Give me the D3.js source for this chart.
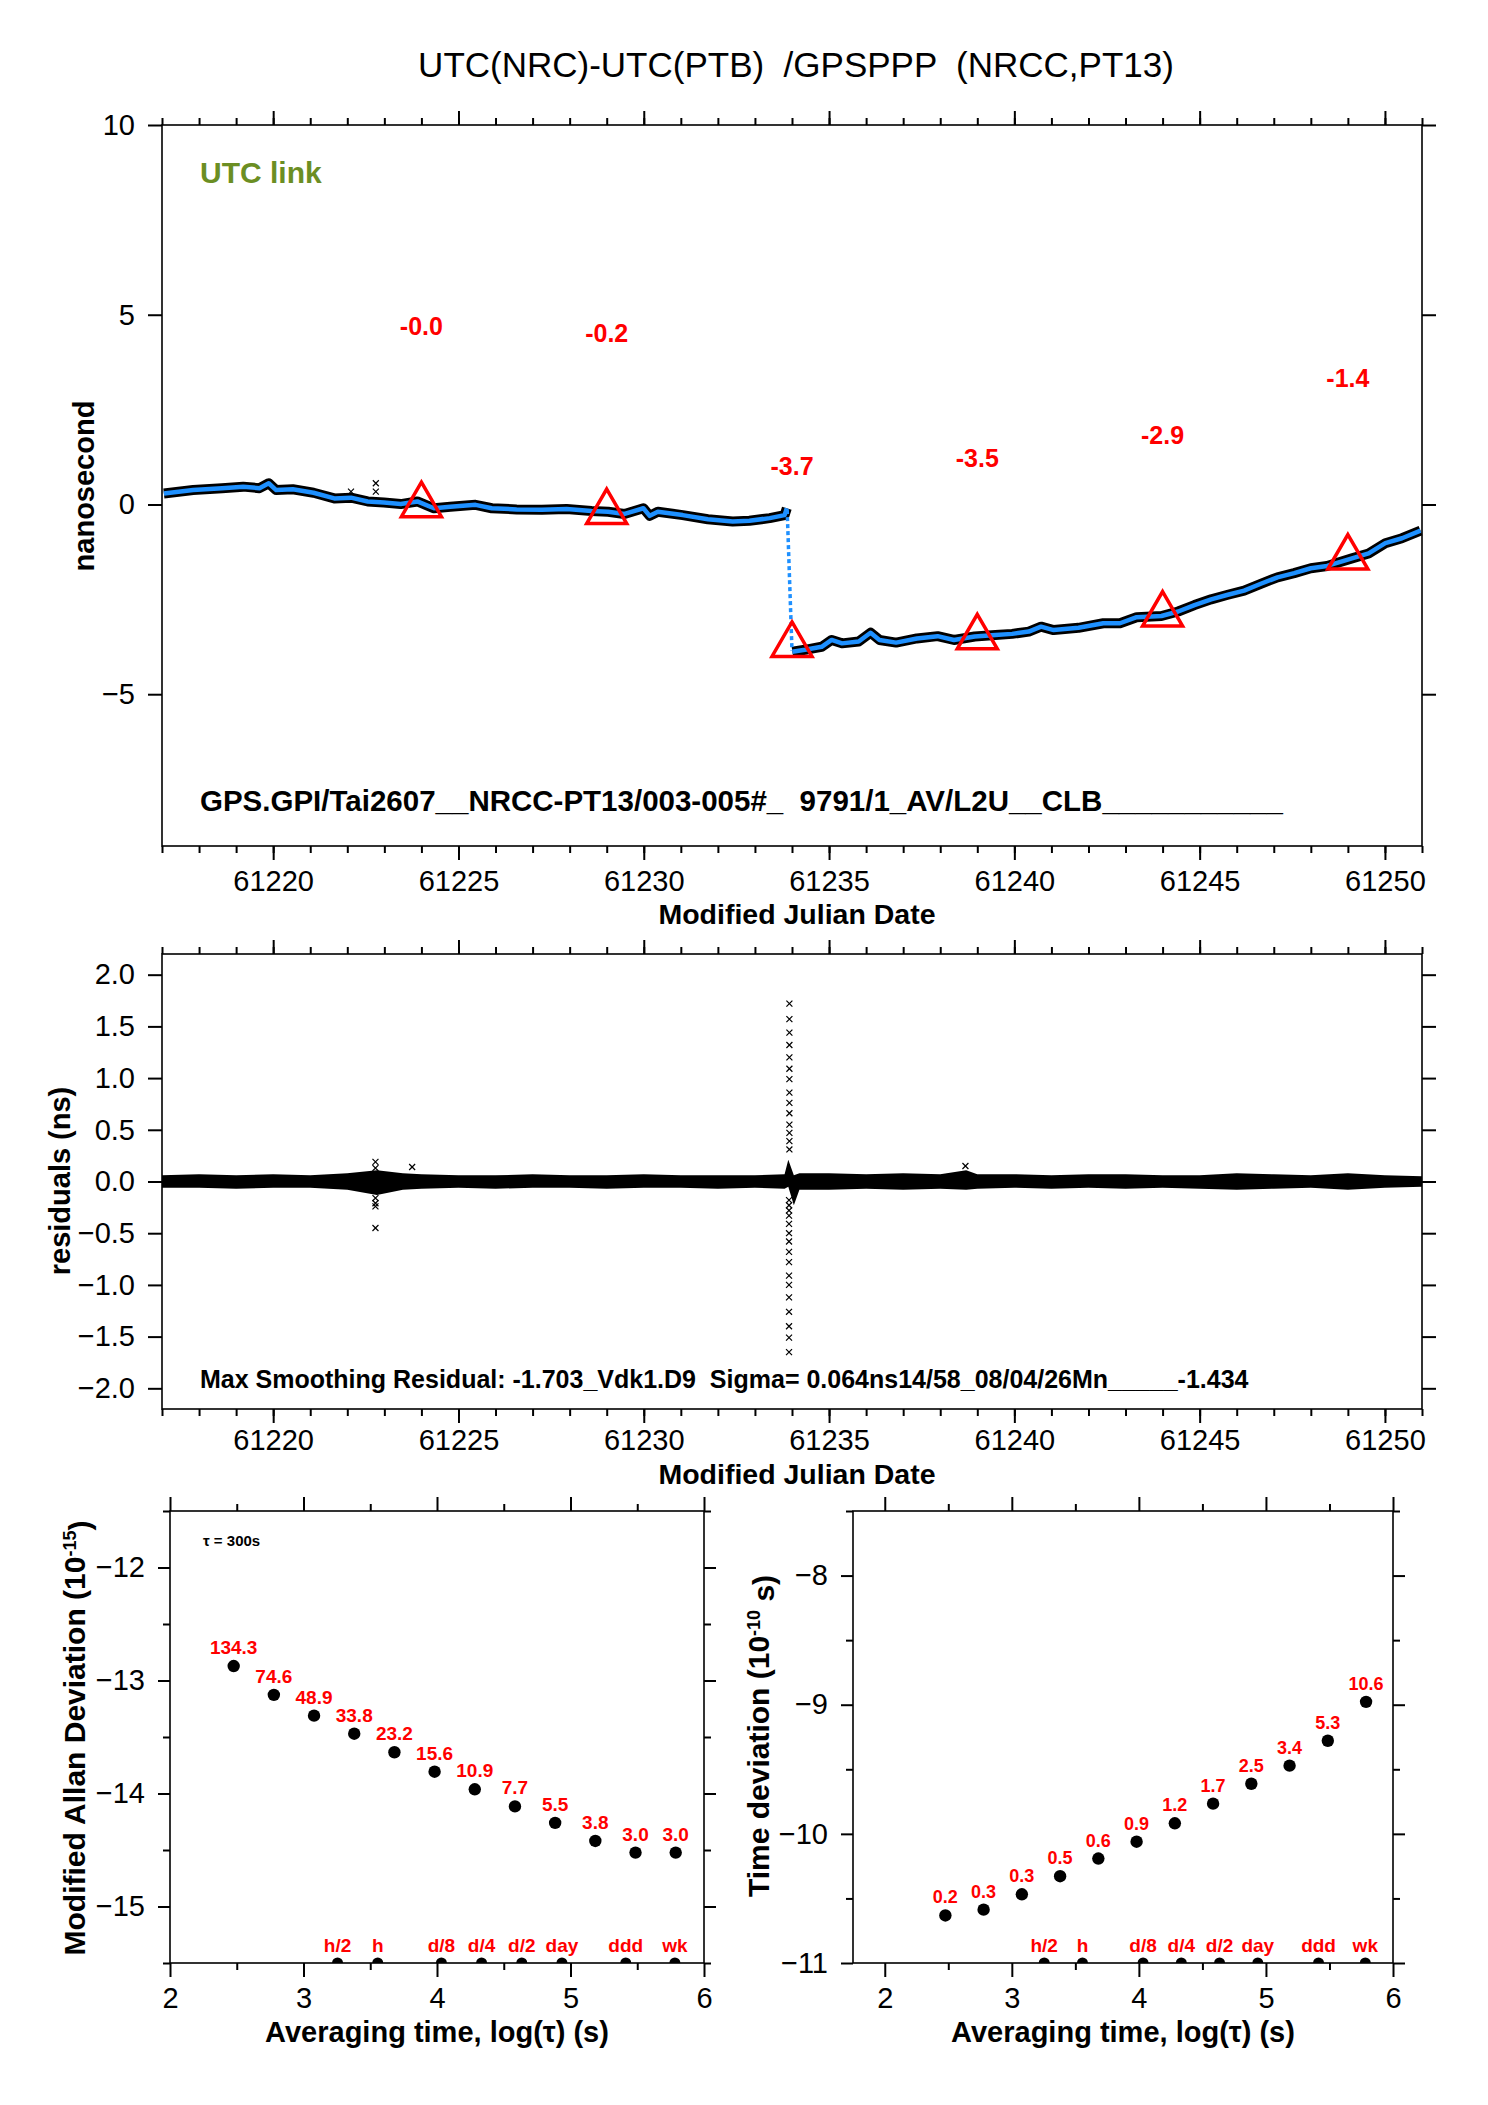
<!DOCTYPE html>
<html>
<head>
<meta charset="utf-8">
<script src="https://cdn.jsdelivr.net/npm/d3@7"></script>
<style>
body{margin:0;background:#fff}
svg{display:block}
text{white-space:pre}
</style>
</head>
<body>
<script>
// ---- data ----
// smoothed link, before and after the step
var mjdA = [61217.05,61217.84,61218.62,61219.19,61219.63,61219.88,61220.08,61220.53,61221.09,61221.65,61222.10,61222.55,61222.99,61223.44,61223.89,61224.34,61224.78,61225.46,61225.90,61226.57,61227.25,61227.92,61228.59,61229.04,61229.48,61229.99,61230.16,61230.38,61231.05,61231.73,61232.40,61232.85,61233.40,61233.80,61233.86];
var nsA  = [0.29,0.38,0.43,0.47,0.43,0.56,0.38,0.40,0.31,0.16,0.18,0.08,0.05,0.01,0.08,-0.10,-0.06,-0.01,-0.10,-0.13,-0.14,-0.12,-0.17,-0.19,-0.25,-0.10,-0.30,-0.19,-0.28,-0.39,-0.45,-0.43,-0.36,-0.28,-0.10];
var mjdB = [61234.01,61234.35,61234.80,61235.07,61235.35,61235.80,61236.12,61236.36,61236.81,61237.37,61237.93,61238.37,61238.93,61239.49,61239.94,61240.39,61240.72,61241.06,61241.73,61242.40,61242.85,61243.30,61243.97,61244.42,61244.86,61245.31,61245.76,61246.20,61246.65,61247.10,61247.55,61248.00,61248.44,61249.11,61249.56,61250.01,61250.46,61250.96];
var nsB  = [-3.88,-3.83,-3.75,-3.57,-3.66,-3.61,-3.38,-3.57,-3.64,-3.53,-3.47,-3.57,-3.48,-3.44,-3.41,-3.35,-3.22,-3.31,-3.25,-3.13,-3.13,-2.97,-2.94,-2.82,-2.65,-2.50,-2.38,-2.27,-2.09,-1.92,-1.81,-1.68,-1.62,-1.42,-1.29,-1.02,-0.89,-0.69];
var jumpMjd = [61233.87, 61234.0];
var jumpNs  = [-0.15, -3.85];
var outMjd = [61222.77,61222.77,61222.10];
var outNs  = [0.56,0.34,0.34];

// UTC link triangles
var triMjd = [61224,61229,61234,61239,61244,61249];
var triVal = [-0.02,-0.2,-3.7,-3.5,-2.9,-1.4];
var triLbl = ["-0.0","-0.2","-3.7","-3.5","-2.9","-1.4"];

// residual envelope
var resDay = [61217,61218,61219,61220,61221,61222,61222.8,61223.5,61224,61225,61226,61227,61228,61229,61230,61231,61232,61233,61233.8,61233.9,61234.05,61234.2,61235,61236,61237,61238,61238.7,61239,61240,61241,61242,61243,61244,61245,61246,61247,61248,61249,61250,61251];
var resHi  = [0.06,0.07,0.06,0.07,0.06,0.08,0.11,0.08,0.07,0.06,0.06,0.07,0.06,0.06,0.07,0.06,0.06,0.06,0.07,0.21,0.06,0.08,0.08,0.07,0.08,0.07,0.11,0.07,0.07,0.06,0.07,0.07,0.06,0.06,0.08,0.07,0.06,0.08,0.06,0.05];
var resLo  = [-0.06,-0.06,-0.07,-0.06,-0.06,-0.08,-0.13,-0.08,-0.07,-0.06,-0.07,-0.06,-0.06,-0.07,-0.06,-0.06,-0.07,-0.06,-0.07,-0.05,-0.23,-0.08,-0.08,-0.07,-0.08,-0.07,-0.08,-0.07,-0.06,-0.07,-0.06,-0.07,-0.06,-0.07,-0.08,-0.07,-0.06,-0.08,-0.06,-0.05];
var resOutMjd = [61222.76,61222.76,61222.76,61222.76,61222.76,61222.76,61223.75,61238.68,
  61233.93,61233.93,61233.93,61233.93,61233.93,61233.93,61233.93,61233.93,61233.93,61233.93,61233.93,61233.93,61233.93,61233.93,
  61233.92,61233.92,61233.92,61233.92,61233.92,61233.92,61233.92,61233.92,61233.92,61233.92,61233.92,61233.92,61233.92,61233.92,61233.92,61233.92];
var resOutNs = [0.19,0.13,-0.16,-0.21,-0.24,-0.45,0.14,0.15,
  1.72,1.57,1.44,1.32,1.20,1.09,0.99,0.86,0.76,0.66,0.55,0.47,0.39,0.31,
  -0.18,-0.23,-0.28,-0.33,-0.41,-0.50,-0.58,-0.68,-0.78,-0.91,-1.00,-1.12,-1.26,-1.40,-1.51,-1.65];

// stability
var logTau  = [2.477,2.778,3.079,3.380,3.681,3.982,4.283,4.584,4.885,5.186,5.487,5.788];
var madev   = [-12.872,-13.127,-13.311,-13.471,-13.635,-13.807,-13.963,-14.114,-14.260,-14.420,-14.523,-14.523];
var madevLbl= ["134.3","74.6","48.9","33.8","23.2","15.6","10.9","7.7","5.5","3.8","3.0","3.0"];
var tdev    = [-10.632,-10.587,-10.468,-10.328,-10.191,-10.061,-9.918,-9.766,-9.612,-9.472,-9.279,-8.978];
var tdevLbl = ["0.2","0.3","0.3","0.5","0.6","0.9","1.2","1.7","2.5","3.4","5.3","10.6"];
var markTau = [3.255,3.556,4.033,4.334,4.635,4.936,5.414,5.782];
var markLbl = ["h/2","h","d/8","d/4","d/2","day","ddd","wk"];

var FONT = '"Liberation Sans", Arial, Helvetica, sans-serif';
var RED = "#ff0000", BLUE = "#1e90ff";

var svg = d3.select("body").append("svg")
    .attr("width",1488).attr("height",2105)
    .attr("font-family",FONT);

svg.append("rect").attr("width",1488).attr("height",2105).attr("fill","#fff");

function styleAx(g, fs){
    g.select(".domain").remove();
    g.attr("font-family",FONT).attr("font-size",fs);
    g.selectAll("line").attr("stroke","#000").attr("stroke-width",2);
    g.selectAll("text").attr("fill","#000");
    // drop the empty labels of unlabelled tick sets
    g.selectAll("text").filter(function(){return this.textContent === "";}).remove();
}
function frame(x, y){
    svg.append("rect")
        .attr("x",x.range()[0]).attr("y",y.range()[1])
        .attr("width",x.range()[1]-x.range()[0]).attr("height",y.range()[0]-y.range()[1])
        .attr("fill","none").attr("stroke","#000").attr("stroke-width",1.6);
}

// ================= plot 1 =================
var x1 = d3.scaleLinear().domain([61217,61251]).range([162,1422]);
var y1 = d3.scaleLinear().domain([-9,10]).range([846,125]);
var dayMinor = d3.range(61217,61252,1);
var dayMajor = d3.range(61220,61251,5);

svg.append("text").attr("x",796).attr("y",77).attr("text-anchor","middle")
    .attr("font-size",35).text("UTC(NRC)-UTC(PTB)  /GPSPPP  (NRCC,PT13)");

var lineA = d3.line().x(function(d,i){return x1(mjdA[i]);}).y(function(d){return y1(d);});
var lineB = d3.line().x(function(d,i){return x1(mjdB[i]);}).y(function(d){return y1(d);});

svg.append("path").attr("d",lineA(nsA)).attr("fill","none").attr("stroke","#000").attr("stroke-width",10).attr("stroke-linejoin","round");
svg.append("path").attr("d",lineB(nsB)).attr("fill","none").attr("stroke","#000").attr("stroke-width",10).attr("stroke-linejoin","round");
svg.append("path").attr("d",lineA(nsA)).attr("fill","none").attr("stroke",BLUE).attr("stroke-width",4.5).attr("stroke-linejoin","round");
svg.append("path").attr("d",lineB(nsB)).attr("fill","none").attr("stroke",BLUE).attr("stroke-width",4.5).attr("stroke-linejoin","round");
svg.append("line")
    .attr("x1",x1(jumpMjd[0])).attr("y1",y1(jumpNs[0]))
    .attr("x2",x1(jumpMjd[1])).attr("y2",y1(jumpNs[1]))
    .attr("stroke",BLUE).attr("stroke-width",3.5).attr("stroke-dasharray","4,3");

var xsym = d3.symbol().type(d3.symbolX).size(25);
svg.selectAll(".out1").data(outNs).enter().append("path")
    .attr("transform",function(d,i){return "translate("+x1(outMjd[i])+","+y1(d)+")";})
    .attr("d",xsym).attr("stroke","#000").attr("stroke-width",1.2).attr("fill","none");

// triangles + labels
var triPath = "M0,-23L20,11.5L-20,11.5Z";
svg.selectAll(".tri").data(triVal).enter().append("path")
    .attr("transform",function(d,i){return "translate("+x1(triMjd[i])+","+y1(d)+")";})
    .attr("d",triPath).attr("fill","none").attr("stroke",RED).attr("stroke-width",3.5);
svg.selectAll(".trilbl").data(triVal).enter().append("text")
    .attr("x",function(d,i){return x1(triMjd[i]);})
    .attr("y",function(d){return y1(d+4.72);})
    .attr("dy","0.35em").attr("text-anchor","middle")
    .attr("font-size",25).attr("font-weight","bold").attr("fill",RED)
    .text(function(d,i){return triLbl[i];});

svg.append("text").attr("x",200).attr("y",183).attr("font-size",30).attr("font-weight","bold")
    .attr("fill","#6b8e23").text("UTC link");
svg.append("text").attr("x",200).attr("y",811).attr("font-size",29.5).attr("font-weight","bold")
    .text("GPS.GPI/Tai2607__NRCC-PT13/003-005#_  9791/1_AV/L2U__CLB___________");

frame(x1,y1);
var g;
g = svg.append("g").attr("transform","translate(0,846)").call(d3.axisBottom(x1).tickValues(dayMinor).tickSize(7).tickFormat(""));styleAx(g,29);
g = svg.append("g").attr("transform","translate(0,846)").call(d3.axisBottom(x1).tickValues(dayMajor).tickSize(14).tickPadding(10).tickFormat(d3.format("d")));styleAx(g,29);
g = svg.append("g").attr("transform","translate(0,125)").call(d3.axisTop(x1).tickValues(dayMinor).tickSize(7).tickFormat(""));styleAx(g,29);
g = svg.append("g").attr("transform","translate(0,125)").call(d3.axisTop(x1).tickValues(dayMajor).tickSize(14).tickFormat(""));styleAx(g,29);
g = svg.append("g").attr("transform","translate(162,0)").call(d3.axisLeft(y1).tickValues([10,5,0,-5]).tickSize(14).tickPadding(13).tickFormat(d3.format("d")));styleAx(g,29);
g = svg.append("g").attr("transform","translate(1422,0)").call(d3.axisRight(y1).tickValues([10,5,0,-5]).tickSize(14).tickFormat(""));styleAx(g,29);

svg.append("text").attr("x",797).attr("y",924).attr("text-anchor","middle")
    .attr("font-size",28.5).attr("font-weight","bold").text("Modified Julian Date");
svg.append("text").attr("transform","translate(84,486) rotate(-90)").attr("dy","0.35em")
    .attr("text-anchor","middle").attr("font-size",29).attr("font-weight","bold").text("nanosecond");

// ================= plot 2 =================
var y2 = d3.scaleLinear().domain([-2.2,2.2]).range([1409,954]);
var band = d3.area()
    .x(function(d,i){return x1(resDay[i]);})
    .y0(function(d,i){return y2(resLo[i]);})
    .y1(function(d){return y2(d);});
svg.append("path").attr("d",band(resHi)).attr("fill","#000");
svg.selectAll(".out2").data(resOutNs).enter().append("path")
    .attr("transform",function(d,i){return "translate("+x1(resOutMjd[i])+","+y2(d)+")";})
    .attr("d",xsym).attr("stroke","#000").attr("stroke-width",1.2).attr("fill","none");

svg.append("text").attr("x",200).attr("y",1388).attr("font-size",25).attr("font-weight","bold")
    .text("Max Smoothing Residual: -1.703_Vdk1.D9  Sigma= 0.064ns14/58_08/04/26Mn_____-1.434");

frame(x1,y2);
var resTicks = [2,1.5,1,0.5,0,-0.5,-1,-1.5,-2];
g = svg.append("g").attr("transform","translate(0,1409)").call(d3.axisBottom(x1).tickValues(dayMinor).tickSize(7).tickFormat(""));styleAx(g,29);
g = svg.append("g").attr("transform","translate(0,1409)").call(d3.axisBottom(x1).tickValues(dayMajor).tickSize(14).tickPadding(6).tickFormat(d3.format("d")));styleAx(g,29);
g = svg.append("g").attr("transform","translate(0,954)").call(d3.axisTop(x1).tickValues(dayMinor).tickSize(7).tickFormat(""));styleAx(g,29);
g = svg.append("g").attr("transform","translate(0,954)").call(d3.axisTop(x1).tickValues(dayMajor).tickSize(14).tickFormat(""));styleAx(g,29);
g = svg.append("g").attr("transform","translate(162,0)").call(d3.axisLeft(y2).tickValues(resTicks).tickSize(14).tickPadding(13).tickFormat(d3.format(".1f")));styleAx(g,29);
g = svg.append("g").attr("transform","translate(1422,0)").call(d3.axisRight(y2).tickValues(resTicks).tickSize(14).tickFormat(""));styleAx(g,29);

svg.append("text").attr("x",797).attr("y",1484).attr("text-anchor","middle")
    .attr("font-size",28.5).attr("font-weight","bold").text("Modified Julian Date");
svg.append("text").attr("transform","translate(60,1181) rotate(-90)").attr("dy","0.35em")
    .attr("text-anchor","middle").attr("font-size",29).attr("font-weight","bold").text("residuals (ns)");

// ================= stability plots =================
var halfDot = d3.arc().innerRadius(0).outerRadius(5.5).startAngle(-Math.PI/2).endAngle(Math.PI/2);

function stabPlot(x, y, vals, lbls, lblSize, yMaj, yMin, xMaj, xMin){
    var xr = x.range(), yr = y.range();
    svg.selectAll(null).data(vals).enter().append("circle")
        .attr("cx",function(d,i){return x(logTau[i]);}).attr("cy",function(d){return y(d);})
        .attr("r",6.2).attr("fill","#000");
    svg.selectAll(null).data(vals).enter().append("text")
        .attr("x",function(d,i){return x(logTau[i]);}).attr("y",function(d){return y(d)-12;})
        .attr("text-anchor","middle").attr("font-size",lblSize).attr("font-weight","bold").attr("fill",RED)
        .text(function(d,i){return lbls[i];});
    svg.selectAll(null).data(markTau).enter().append("path")
        .attr("transform",function(d){return "translate("+x(d)+","+yr[0]+")";})
        .attr("d",halfDot()).attr("fill","#000");
    svg.selectAll(null).data(markTau).enter().append("text")
        .attr("x",function(d){return x(d);}).attr("y",yr[0]-11)
        .attr("text-anchor","middle").attr("font-size",19).attr("font-weight","bold").attr("fill",RED)
        .text(function(d,i){return markLbl[i];});
    frame(x,y);
    var g;
    g = svg.append("g").attr("transform","translate(0,"+yr[0]+")").call(d3.axisBottom(x).tickValues(xMin).tickSize(7).tickFormat(""));styleAx(g,29);
    g = svg.append("g").attr("transform","translate(0,"+yr[0]+")").call(d3.axisBottom(x).tickValues(xMaj).tickSize(14).tickPadding(10).tickFormat(d3.format("d")));styleAx(g,29);
    g = svg.append("g").attr("transform","translate(0,"+yr[1]+")").call(d3.axisTop(x).tickValues(xMin).tickSize(7).tickFormat(""));styleAx(g,29);
    g = svg.append("g").attr("transform","translate(0,"+yr[1]+")").call(d3.axisTop(x).tickValues(xMaj).tickSize(14).tickFormat(""));styleAx(g,29);
    g = svg.append("g").attr("transform","translate("+xr[0]+",0)").call(d3.axisLeft(y).tickValues(yMin).tickSize(7).tickFormat(""));styleAx(g,29);
    g = svg.append("g").attr("transform","translate("+xr[0]+",0)").call(d3.axisLeft(y).tickValues(yMaj).tickSize(12).tickPadding(13).tickFormat(d3.format("d")));styleAx(g,29);
    g = svg.append("g").attr("transform","translate("+xr[1]+",0)").call(d3.axisRight(y).tickValues(yMin).tickSize(7).tickFormat(""));styleAx(g,29);
    g = svg.append("g").attr("transform","translate("+xr[1]+",0)").call(d3.axisRight(y).tickValues(yMaj).tickSize(12).tickFormat(""));styleAx(g,29);
    svg.append("text").attr("x",(xr[0]+xr[1])/2).attr("y",2042).attr("text-anchor","middle")
        .attr("font-size",29).attr("font-weight","bold").text("Averaging time, log(τ) (s)");
}

var x3 = d3.scaleLinear().domain([2,6]).range([170,704]);
var y3 = d3.scaleLinear().domain([-15.5,-11.5]).range([1963,1511]);
stabPlot(x3, y3, madev, madevLbl, 19, [-12,-13,-14,-15], [-11.5,-12.5,-13.5,-14.5,-15.5], [2,3,4,5,6], [2.5,3.5,4.5,5.5]);
svg.append("text").attr("x",203).attr("y",1546).attr("font-size",15).attr("font-weight","bold").text("τ = 300s");
var lab3 = svg.append("text").attr("transform","translate(74,1738) rotate(-90)").attr("dy","0.35em")
    .attr("text-anchor","middle").attr("font-size",30).attr("font-weight","bold");
lab3.append("tspan").text("Modified Allan Deviation (10");
lab3.append("tspan").attr("dy","-0.45em").attr("font-size",18).text("-15");
lab3.append("tspan").attr("dy","0.45em").text(")");

var x4 = d3.scaleLinear().domain([1.75,6]).range([853,1393]);
var y4 = d3.scaleLinear().domain([-11,-7.5]).range([1963,1511]);
stabPlot(x4, y4, tdev, tdevLbl, 18, [-8,-9,-10,-11], [-7.5,-8.5,-9.5,-10.5], [2,3,4,5,6], [2.5,3.5,4.5,5.5]);
var lab4 = svg.append("text").attr("transform","translate(758,1736) rotate(-90)").attr("dy","0.35em")
    .attr("text-anchor","middle").attr("font-size",30).attr("font-weight","bold");
lab4.append("tspan").text("Time deviation (10");
lab4.append("tspan").attr("dy","-0.45em").attr("font-size",18).text("-10");
lab4.append("tspan").attr("dy","0.45em").text(" s)");
</script>
</body>
</html>
